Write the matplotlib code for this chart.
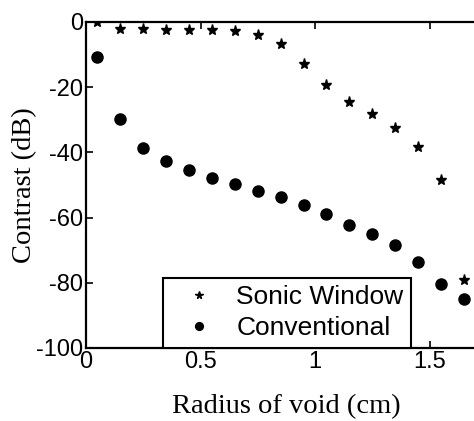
import matplotlib.pyplot as plt

radius = [0.05, 0.15, 0.25, 0.35, 0.45, 0.55, 0.65, 0.75, 0.85,
          0.95, 1.05, 1.15, 1.25, 1.35, 1.45, 1.55, 1.65]
sonic_window = [0, -2.0, -2.0, -2.4, -2.4, -2.4, -2.8, -4.0, -6.8,
                -12.9, -19.3, -24.4, -28.2, -32.6, -38.2, -48.6, -79.1]
conventional = [-10.8, -29.9, -38.5, -42.6, -45.3, -47.7, -49.7, -51.8, -53.7,
                -56.1, -59.0, -62.2, -65.0, -68.3, -73.6, -80.5, -84.9]
x_ticks = [0, 0.5, 1, 1.5]
x_tick_labels = ["0", "0.5", "1", "1.5"]
y_ticks = [0, -20, -40, -60, -80, -100]
y_tick_labels = ["0", "-20", "-40", "-60", "-80", "-100"]

sans = "Liberation Sans"
serif = "Liberation Serif"

fig = plt.figure(figsize=(4.74, 4.21), dpi=100)
# axes run past the right edge of the figure, like the cropped original
ax = fig.add_axes([86 / 474, 73 / 421, 458 / 474, 326 / 421])

ax.plot(radius, sonic_window, linestyle="none", marker="*", markersize=8,
        color="black", label="Sonic Window")
ax.plot(radius, conventional, linestyle="none", marker="o", markersize=8,
        color="black", label="Conventional")

ax.set_xlim(0, 2)
ax.set_ylim(-100, 0)
ax.set_xticks(x_ticks)
ax.set_xticklabels(x_tick_labels, family=sans, fontsize=17)
ax.set_yticks(y_ticks)
ax.set_yticklabels(y_tick_labels, family=sans, fontsize=17)
ax.tick_params(direction="in", length=5, width=1.2, top=True, right=True,
               pad=2, colors="black")

for spine in ax.spines.values():
    spine.set_linewidth(1.6)

# label centred on the visible part of the axis
ax.set_xlabel("Radius of void (cm)", family=serif, fontsize=20.5,
              labelpad=15, x=0.437)
ax.set_ylabel("Contrast (dB)", family=serif, fontsize=20.5, labelpad=-1)

leg = ax.legend(loc="lower left", bbox_to_anchor=(0.168, 0.0), borderaxespad=0,
                prop={"family": sans, "size": 19}, fancybox=False,
                frameon=True, handletextpad=0.38, borderpad=0.3,
                labelspacing=0.25, handlelength=2.1, markerscale=0.7)
leg.get_frame().set_edgecolor("black")
leg.get_frame().set_linewidth(1.5)
leg.get_frame().set_alpha(1)

fig.savefig("out.png", dpi=100)
plt.close(fig)
